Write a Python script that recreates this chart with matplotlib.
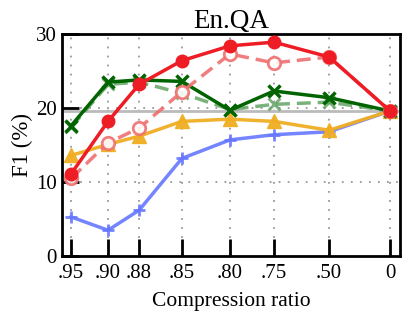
import matplotlib
matplotlib.use("Agg")
import matplotlib.pyplot as plt

plt.rcParams['font.family'] = ['Liberation Serif', 'DejaVu Serif']

# Compression ratios (tick labels) and their spacing on the axis
ratios = ['.95', '.90', '.88', '.85', '.80', '.75', '.50', '0']
xpos = [0, 1.2, 2.21, 3.6, 5.16, 6.59, 8.38, 10.36]

# F1 (%) per method
red_solid = [11.1, 18.2, 23.2, 26.4, 28.4, 28.9, 26.9, 19.6]
red_dashed = [10.5, 15.3, 17.3, 22.2, 27.3, 26.1, 26.9, 19.6]
green_solid = [17.6, 23.5, 23.8, 23.6, 19.7, 22.3, 21.4, 19.6]
green_dashed = [17.4, 23.2, 23.5, 22.0, 19.8, 20.5, 20.8, 19.6]
orange = [13.6, 15.1, 16.2, 18.2, 18.5, 18.2, 17.0, 19.6]
blue = [5.3, 3.5, 6.2, 13.2, 15.7, 16.4, 16.8, 19.6]
full_kv = 19.6

fig = plt.figure(figsize=(4.06, 3.12), dpi=100)
ax = fig.add_axes([0.153, 0.179, 0.832, 0.712])

# dotted grid
for x in xpos:
    ax.axvline(x, color='#999999', lw=1.3, ls=(0, (1, 4)), zorder=0)
for y in [10, 20]:
    ax.axhline(y, color='#999999', lw=1.3, ls=(0, (1, 4)), zorder=0)
ax.axhline(full_kv, color='#bbbbbb', lw=2, zorder=1)

ax.plot(xpos, blue, color='#6677ff', lw=2.5, marker='+', ms=8, mew=2, alpha=0.9, zorder=3)
ax.plot(xpos, orange, color='#f0ae22', lw=2.5, marker='^', ms=10, alpha=0.95, zorder=3)
ax.plot(xpos, green_dashed, color='#5a9e5a', lw=2.5, ls=(0, (4, 2)), marker='x', ms=8, mew=2,
        alpha=0.8, zorder=3)
ax.plot(xpos, green_solid, color='#006400', lw=2.5, marker='x', ms=8, mew=2.5, zorder=4)
ax.plot(xpos, red_dashed, color='#f07070', lw=2.5, ls=(0, (4, 2)), marker='o', ms=9, mew=2,
        mfc='white', alpha=0.9, zorder=4)
ax.plot(xpos, red_solid, color='#ee1c24', lw=2.5, marker='o', ms=9, zorder=5)

ax.set_xlim(-0.29, 10.68)
ax.set_ylim(0, 30)
ax.set_xticks(xpos)
ax.set_xticklabels(ratios)
ax.set_yticks([0, 10, 20, 30])

for s in ax.spines.values():
    s.set_linewidth(2)
ax.tick_params(direction='in', length=12, width=2, labelsize=15, pad=6)
ax.tick_params(axis='y', pad=4)

ax.set_title('En.QA', fontsize=19.5, pad=2)
ax.set_xlabel('Compression ratio', fontsize=15.5, labelpad=6)
ax.set_ylabel('F1 (%)', fontsize=16.5, labelpad=2)

fig.savefig('out.png', dpi=100)
